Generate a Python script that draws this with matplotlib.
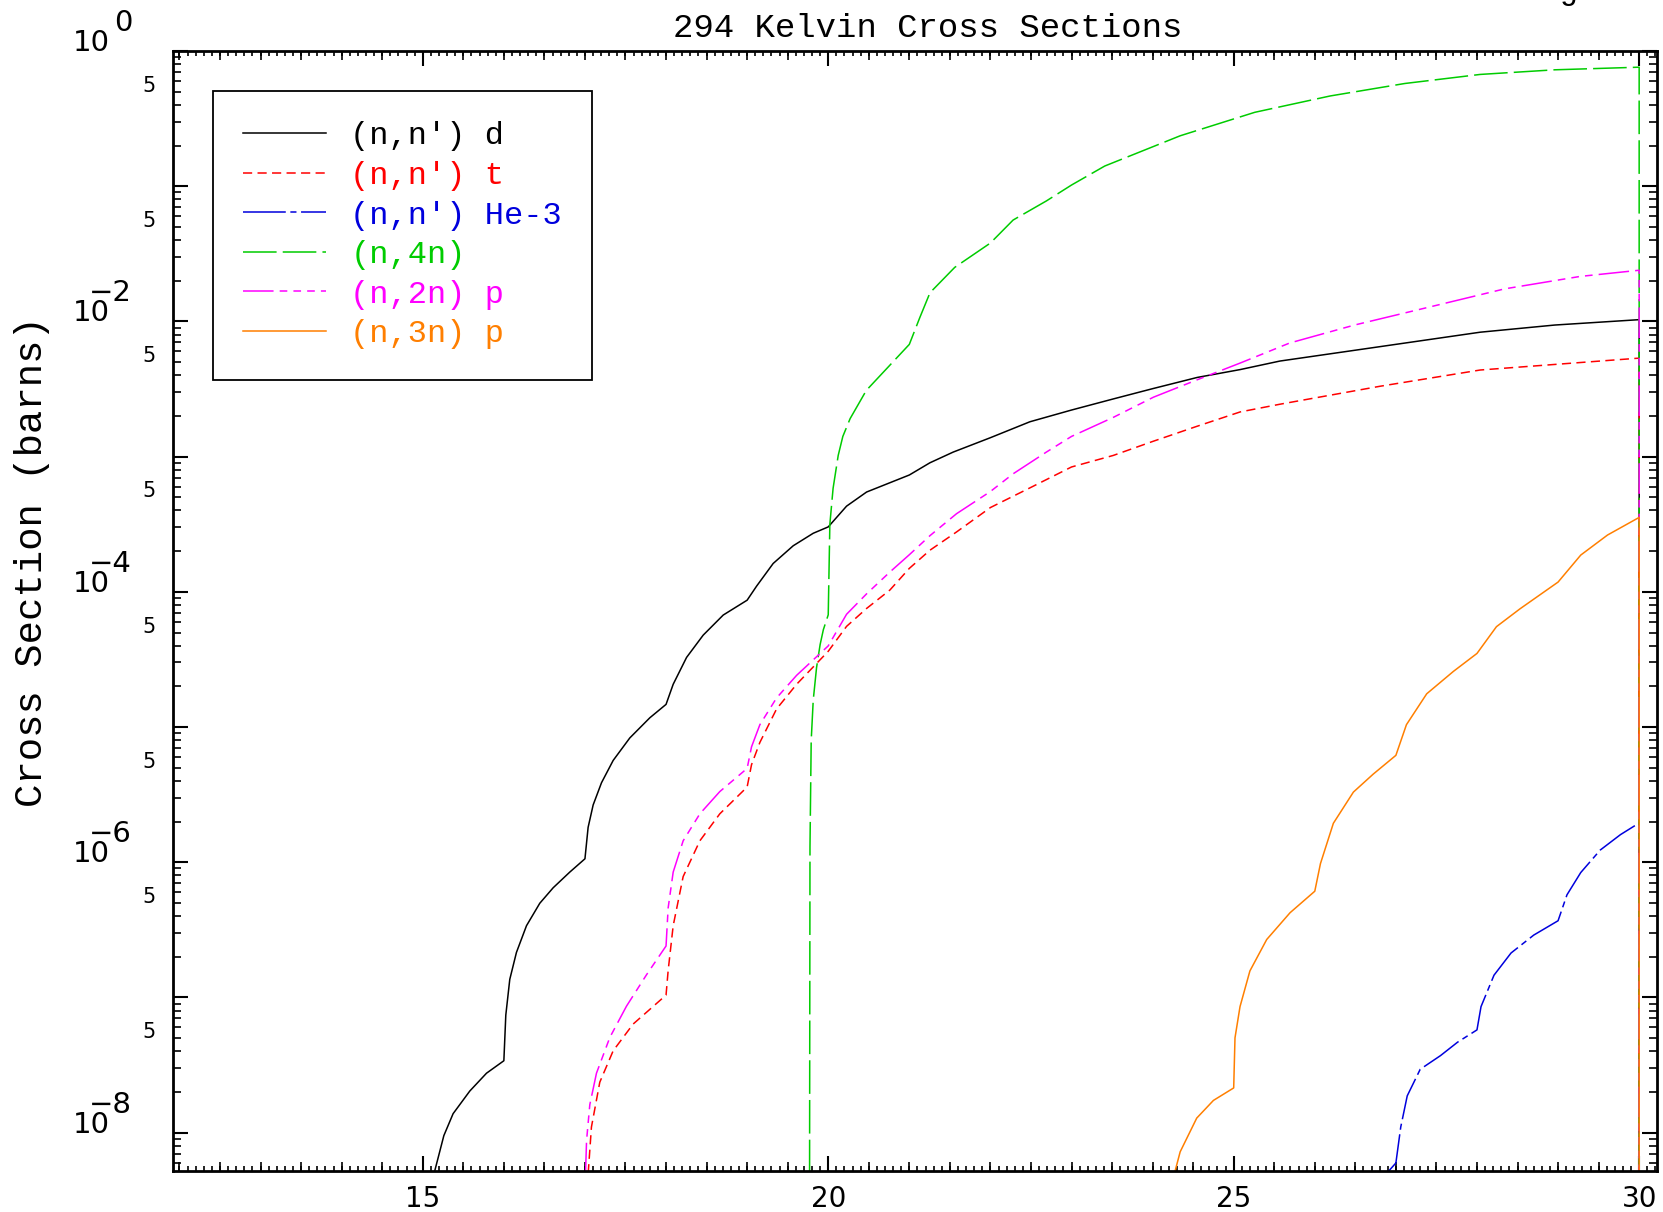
import numpy as np
import matplotlib
matplotlib.use('Agg')
import matplotlib.pyplot as plt
from matplotlib.ticker import MultipleLocator, LogLocator, NullFormatter
from matplotlib.transforms import offset_copy

# cross sections (energy in MeV, sigma in barns)
# every curve drops to zero at the end of the energy grid (30 MeV)
x_d = [15.14, 15.26, 15.374, 15.58, 15.786, 16.0, 16.024, 16.073, 16.155, 16.279, 16.443,
       16.608, 16.813, 17.0, 17.039, 17.101, 17.204, 17.348, 17.553, 17.80, 18.0, 18.088,
       18.253, 18.458, 18.705, 19.0, 19.116, 19.321, 19.568, 19.815, 20.0, 20.226, 20.473,
       21.0, 21.254, 21.541, 22.0, 22.487, 23.0, 23.515, 24.0, 24.55, 25.078, 25.57, 26.80,
       28.04, 28.96, 30.0, 30.0]
y_d = [5.0e-9, 9.5e-9, 1.38e-8, 2.03e-8, 2.75e-8, 3.40e-8, 7.40e-8, 1.36e-7, 2.15e-7, 3.39e-7,
       4.97e-7, 6.47e-7, 8.45e-7, 1.06e-6, 1.81e-6, 2.65e-6, 3.87e-6, 5.66e-6, 8.30e-6, 1.17e-5,
       1.47e-5, 2.07e-5, 3.27e-5, 4.78e-5, 6.73e-5, 8.67e-5, 1.10e-4, 1.62e-4, 2.19e-4, 2.71e-4,
       3.02e-4, 4.30e-4, 5.47e-4, 7.31e-4, 9.00e-4, 1.08e-3, 1.38e-3, 1.81e-3, 2.21e-3, 2.67e-3,
       3.18e-3, 3.85e-3, 4.40e-3, 5.09e-3, 6.50e-3, 8.32e-3, 9.40e-3, 1.03e-2, 1e-12]

x_t = [17.04, 17.08, 17.183, 17.348, 17.594, 18.0, 18.026, 18.088, 18.211, 18.417, 18.663,
       19.0, 19.054, 19.157, 19.363, 19.61, 20.0, 20.226, 20.473, 20.76, 21.0, 21.254, 21.582,
       22.0, 22.487, 23.0, 23.515, 24.01, 24.54, 25.08, 25.57, 26.80, 28.04, 30.0, 30.0]
y_t = [5.0e-9, 1.10e-8, 2.36e-8, 4.03e-8, 6.35e-8, 1.04e-7, 1.58e-7, 3.39e-7, 7.83e-7, 1.44e-6,
       2.28e-6, 3.60e-6, 5.26e-6, 7.69e-6, 1.36e-5, 2.07e-5, 3.63e-5, 5.55e-5, 7.53e-5, 1.03e-4,
       1.49e-4, 2.03e-4, 2.77e-4, 4.20e-4, 5.87e-4, 8.38e-4, 1.02e-3, 1.30e-3, 1.67e-3, 2.14e-3,
       2.44e-3, 3.31e-3, 4.37e-3, 5.35e-3, 1e-12]

x_he3 = [26.887, 27.0, 27.06, 27.14, 27.3, 27.55, 27.76, 28.0, 28.05, 28.21, 28.42, 28.70,
         29.0, 29.11, 29.28, 29.52, 29.77, 30.0, 30.0]
y_he3 = [5.0e-9, 5.96e-9, 1.10e-8, 1.87e-8, 2.94e-8, 3.71e-8, 4.66e-8, 5.75e-8, 8.55e-8,
         1.46e-7, 2.13e-7, 2.89e-7, 3.69e-7, 5.74e-7, 8.39e-7, 1.23e-6, 1.60e-6, 1.95e-6, 1e-12]

x_4n = [19.77, 19.775, 19.79, 19.815, 19.856, 19.90, 19.94, 20.0, 20.02, 20.06, 20.123, 20.18,
        20.27, 20.47, 20.72, 21.0, 21.13, 21.255, 21.56, 22.0, 22.28, 22.69, 23.0, 23.41, 24.34,
        25.26, 26.19, 27.11, 28.04, 28.96, 30.0, 30.0]
y_4n = [5.0e-9, 1.30e-6, 7.94e-6, 1.58e-5, 2.75e-5, 4.07e-5, 5.25e-5, 6.76e-5, 3.16e-4, 5.83e-4,
        1.02e-3, 1.41e-3, 1.91e-3, 3.09e-3, 4.47e-3, 6.76e-3, 1.07e-2, 1.63e-2, 2.51e-2, 3.80e-2,
        5.62e-2, 7.78e-2, 1.02e-1, 0.141, 0.236, 0.352, 0.465, 0.575, 0.671, 0.726, 0.759, 1e-12]

x_2np = [17.007, 17.02, 17.06, 17.142, 17.307, 17.512, 17.759, 18.0, 18.026, 18.088, 18.211,
         18.417, 18.663, 19.0, 19.054, 19.157, 19.363, 19.61, 20.0, 20.226, 20.473, 20.76, 21.0,
         21.254, 21.582, 22.0, 22.28, 22.69, 23.0, 23.515, 24.01, 24.56, 25.08, 25.69, 26.49,
         27.42, 28.34, 29.27, 30.0, 30.0]
y_2np = [5.0e-9, 8.77e-9, 1.61e-8, 2.75e-8, 5.06e-8, 8.61e-8, 1.47e-7, 2.40e-7, 4.59e-7, 8.45e-7,
         1.44e-6, 2.28e-6, 3.33e-6, 4.94e-6, 7.13e-6, 1.04e-5, 1.64e-5, 2.41e-5, 3.98e-5, 6.82e-5,
         9.66e-5, 1.40e-4, 1.88e-4, 2.60e-4, 3.78e-4, 5.52e-4, 7.46e-4, 1.08e-3, 1.41e-3, 1.95e-3,
         2.75e-3, 3.72e-3, 4.92e-3, 6.92e-3, 9.40e-3, 1.28e-2, 1.74e-2, 2.15e-2, 2.39e-2, 1e-12]

x_3np = [24.27, 24.34, 24.544, 24.75, 25.0, 25.016, 25.078, 25.2, 25.407, 25.695, 26.0, 26.07,
         26.229, 26.476, 26.72, 27.0, 27.13, 27.38, 27.71, 28.0, 28.24, 28.53, 29.0, 29.28,
         29.61, 30.0, 30.0]
y_3np = [5.0e-9, 7.21e-9, 1.28e-8, 1.73e-8, 2.14e-8, 5.02e-8, 8.55e-8, 1.57e-7, 2.68e-7, 4.23e-7,
         6.10e-7, 9.77e-7, 1.94e-6, 3.30e-6, 4.48e-6, 6.17e-6, 1.04e-5, 1.76e-5, 2.58e-5, 3.50e-5,
         5.52e-5, 7.48e-5, 1.18e-4, 1.87e-4, 2.63e-4, 3.55e-4, 1e-12]

labels = ["(n,n') d", "(n,n') t", "(n,n') He-3", "(n,4n)", "(n,2n) p", "(n,3n) p"]
colors = ['black', '#ff0000', '#0000dd', '#00cc00', '#ff00ff', '#ff7f00']
dashes = [None, (6, 3.5), (28, 3, 4, 3), (22, 4), (20, 4, 5, 4, 5, 4, 5, 4), None]

decade_ticks = [1e0, 1e-2, 1e-4, 1e-6, 1e-8]
decade_exps = ['0', '\u22122', '\u22124', '\u22126', '\u22128']
five_ticks = [5e-1, 5e-2, 5e-3, 5e-4, 5e-5, 5e-6, 5e-7, 5e-8]
x_ticks = [15, 20, 25, 30]

mono = 'Liberation Mono'
sans = 'DejaVu Sans'

fig = plt.figure(figsize=(16.63, 12.12), dpi=100)
W, H = 1663, 1212
left, right, top, bottom = 173, 1657, 51, 1171
ax = fig.add_axes([left / W, 1 - bottom / H, (right - left) / W, (bottom - top) / H])

series = [(x_d, y_d), (x_t, y_t), (x_he3, y_he3), (x_4n, y_4n), (x_2np, y_2np), (x_3np, y_3np)]
handles = []
for (xs, ys), lab, c, d in zip(series, labels, colors, dashes):
    line, = ax.plot(xs, ys, color=c, lw=1.1, label=lab)
    if d is not None:
        line.set_dashes(d)
    handles.append(line)

ax.set_yscale('log')
ax.set_xlim(11.92, 30.22)
ax.set_ylim(5.2e-9, 1.0)

# x ticks: major every 5, medium every 0.5 (secondary axes), small every 0.1
ax.set_xticks(x_ticks)
ax.set_xticklabels([str(v) for v in x_ticks], fontfamily=sans, fontsize=20)
ax.xaxis.set_minor_locator(MultipleLocator(0.1))
ax.tick_params(axis='x', which='major', direction='in', length=11, width=1.5,
               top=True, bottom=True, pad=10)
ax.tick_params(axis='x', which='minor', direction='in', length=3.5, width=1.2,
               top=True, bottom=True)
for loc in ['bottom', 'top']:
    sec = ax.secondary_xaxis(loc)
    sec.set_xticks([v for v in np.arange(12.0, 30.3, 0.5) if v not in x_ticks])
    sec.tick_params(direction='in', length=6.5, width=1.2, labelbottom=False,
                    labeltop=False)
    sec.spines[loc].set_visible(False)

ax.yaxis.set_major_locator(LogLocator(base=10, numticks=20))
ax.yaxis.set_minor_locator(LogLocator(base=10, subs=np.arange(2, 10), numticks=20))
ax.yaxis.set_major_formatter(NullFormatter())
ax.yaxis.set_minor_formatter(NullFormatter())
ax.tick_params(axis='y', which='major', direction='in', length=11, width=1.5,
               left=True, right=True)
ax.tick_params(axis='y', which='minor', direction='in', length=5.5, width=1.2,
               left=True, right=True)

for s in ax.spines.values():
    s.set_linewidth(2)

# IDL style y labels: 10 with full size exponent, and "5" at the half decades
ytr = ax.get_yaxis_transform()
t_base = offset_copy(ytr, fig=fig, x=-63, y=0, units='dots')
t_exp = offset_copy(ytr, fig=fig, x=-41, y=20, units='dots')
t_five = offset_copy(ytr, fig=fig, x=-17, y=0, units='dots')
for v, e in zip(decade_ticks, decade_exps):
    ax.text(0, v, '10', transform=t_base, ha='right', va='baseline',
            fontfamily=sans, fontsize=21, clip_on=False)
    ax.text(0, v, e, transform=t_exp, ha='right', va='baseline',
            fontfamily=sans, fontsize=21, clip_on=False)
for v in five_ticks:
    ax.text(0, v, '5', transform=t_five, ha='right', va='baseline',
            fontfamily=sans, fontsize=15, clip_on=False)

ax.set_title('294 Kelvin Cross Sections', fontfamily=mono, fontsize=24.5, pad=10,
             x=0.5 + 13 / (right - left))
fig.text(32 / W, 1 - 562 / H, 'Cross Section (barns)', rotation=90, ha='center',
         va='center', fontfamily=mono, fontsize=28)
# label cut off by the top edge of the image
fig.text(1568 / W, 1 + 1 / H, 'g', ha='center', va='baseline', fontfamily=mono,
         fontsize=23)

leg = ax.legend(handles, labels, loc='upper left',
                bbox_to_anchor=((213 - left) / (right - left), (bottom - 91) / (bottom - top)),
                borderaxespad=0, prop={'family': mono, 'size': 23}, labelcolor='linecolor',
                handlelength=2.6, handletextpad=0.75, borderpad=0.95, labelspacing=0.3,
                fancybox=False, framealpha=1, edgecolor='black')
leg.get_frame().set_linewidth(1.3)

fig.savefig('out.png', dpi=100)
